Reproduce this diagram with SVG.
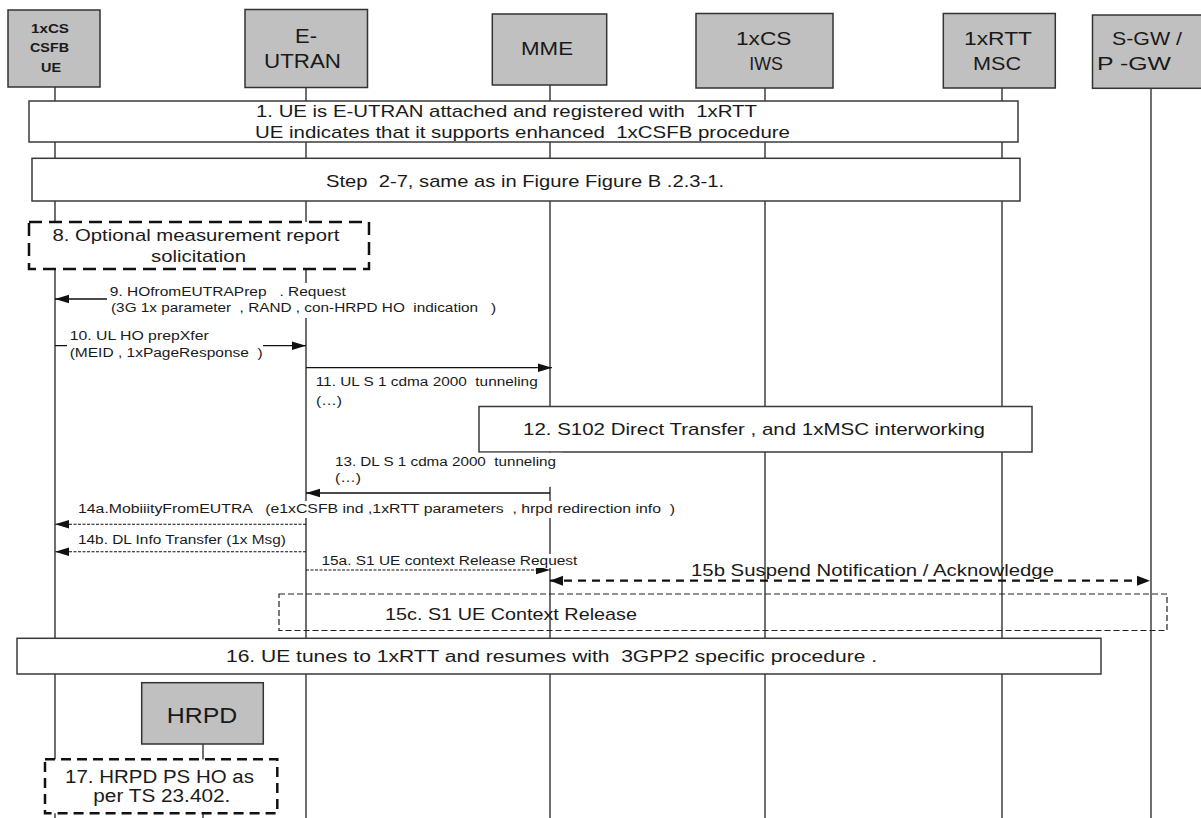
<svg xmlns="http://www.w3.org/2000/svg" width="1201" height="818" viewBox="0 0 1201 818">
<style>
text{font-family:"Liberation Sans",Arial,sans-serif;fill:#1a1a1a;white-space:pre}
.node{fill:#c0c0c0;stroke:#333;stroke-width:1.5}
.life{stroke:#222;stroke-width:1.3;fill:none}
.step{fill:#fff;stroke:#3a3a3a;stroke-width:1.5}
.opt{fill:#fff;stroke:#111;stroke-width:2.5;stroke-dasharray:13 7}
.opt2{fill:#fff;stroke:#111;stroke-width:2.5;stroke-dasharray:10 6}
.thin{fill:none;stroke:#222;stroke-width:1.2;stroke-dasharray:6 3}
.msg{stroke:#111;stroke-width:1.3;fill:none;marker-end:url(#ah)}
.dot{stroke:#111;stroke-width:1.1;fill:none;stroke-dasharray:3 1.5;marker-end:url(#ah)}
.bi{stroke:#111;stroke-width:2.2;fill:none;stroke-dasharray:8 6;marker-end:url(#ah2);marker-start:url(#ah2)}
.bg{fill:#fff;stroke:none}
.s12{font-size:12px}
.s17{font-size:17px}
</style>
<defs>
<marker id="ah" markerWidth="14" markerHeight="10" refX="14" refY="5" orient="auto" markerUnits="userSpaceOnUse"><path d="M0,0.8 L14,5 L0,9.2 z" fill="#111" stroke="none"/></marker>
<marker id="ah2" markerWidth="14" markerHeight="11" refX="13" refY="5.5" orient="auto-start-reverse" markerUnits="userSpaceOnUse"><path d="M0,0.5 L13,5.5 L0,10.5 z" fill="#111" stroke="none"/></marker>
</defs>

<g id="lifelines">
<line class="life" x1="55" y1="87" x2="55" y2="818"/>
<line class="life" x1="306" y1="87" x2="306" y2="818"/>
<line class="life" x1="550" y1="85" x2="550" y2="818"/>
<line class="life" x1="765" y1="88" x2="765" y2="818"/>
<line class="life" x1="1002" y1="88" x2="1002" y2="818"/>
<line class="life" x1="1151" y1="88" x2="1151" y2="818"/>
<line class="life" x1="203" y1="744" x2="203" y2="818"/>
</g>

<g id="node-ue">
<rect class="node" x="8" y="10" width="92" height="77"/>
<text x="31" y="33" font-size="12" font-weight="bold" textLength="38" lengthAdjust="spacingAndGlyphs">1xCS</text>
<text x="30" y="51.5" font-size="12" font-weight="bold" textLength="39" lengthAdjust="spacingAndGlyphs">CSFB</text>
<text x="41" y="71.5" font-size="12" font-weight="bold" textLength="20" lengthAdjust="spacingAndGlyphs">UE</text>
</g>
<g id="node-eutran">
<rect class="node" x="245" y="9.5" width="122.5" height="78"/>
<text x="295" y="43.3" font-size="20" textLength="22" lengthAdjust="spacingAndGlyphs">E-</text>
<text x="264" y="67.7" font-size="20" textLength="77" lengthAdjust="spacingAndGlyphs">UTRAN</text>
</g>
<g id="node-mme">
<rect class="node" x="492.3" y="14" width="114.4" height="71"/>
<text x="521" y="55" font-size="19" textLength="52" lengthAdjust="spacingAndGlyphs">MME</text>
</g>
<g id="node-iws">
<rect class="node" x="696" y="13.5" width="137" height="74.5"/>
<text x="736" y="45" font-size="18" textLength="55.5" lengthAdjust="spacingAndGlyphs">1xCS</text>
<text x="749.3" y="70" font-size="18" textLength="33.6" lengthAdjust="spacingAndGlyphs">IWS</text>
</g>
<g id="node-msc">
<rect class="node" x="943.3" y="13.5" width="112" height="74.5"/>
<text x="964" y="45" font-size="18" textLength="68" lengthAdjust="spacingAndGlyphs">1xRTT</text>
<text x="973" y="70" font-size="18" textLength="48" lengthAdjust="spacingAndGlyphs">MSC</text>
</g>
<g id="node-sgw">
<rect class="node" x="1092.5" y="15" width="120" height="73.3"/>
<text x="1112" y="45" font-size="18" textLength="70" lengthAdjust="spacingAndGlyphs">S-GW /</text>
<text x="1097" y="70" font-size="18" textLength="74" lengthAdjust="spacingAndGlyphs">P -GW</text>
</g>

<g id="step1">
<rect class="step" x="29" y="101" width="989" height="41"/>
<text class="s17" x="256" y="116.7" textLength="501" lengthAdjust="spacingAndGlyphs">1. UE is E-UTRAN attached and registered with  1xRTT</text>
<text class="s17" x="255" y="137.7" textLength="535" lengthAdjust="spacingAndGlyphs">UE indicates that it supports enhanced  1xCSFB procedure</text>
</g>
<g id="step2-7">
<rect class="step" x="32" y="158.3" width="988" height="42.7"/>
<text class="s17" x="326" y="186.7" textLength="398" lengthAdjust="spacingAndGlyphs">Step  2-7, same as in Figure Figure B .2.3-1.</text>
</g>
<g id="step8">
<rect class="opt" x="29" y="222" width="340" height="47"/>
<text class="s17" x="52.4" y="240.7" textLength="287" lengthAdjust="spacingAndGlyphs">8. Optional measurement report</text>
<text class="s17" x="151" y="261.7" textLength="95" lengthAdjust="spacingAndGlyphs">solicitation</text>
</g>
<g id="step12">
<rect class="step" x="479" y="406.5" width="553" height="45.5"/>
<text class="s17" x="523" y="435" textLength="462" lengthAdjust="spacingAndGlyphs">12. S102 Direct Transfer , and 1xMSC interworking</text>
</g>
<g id="step15c">
<rect class="thin" x="279" y="594" width="888" height="36.5"/>
<text class="s17" x="385" y="620" textLength="252" lengthAdjust="spacingAndGlyphs">15c. S1 UE Context Release</text>
</g>
<g id="step16">
<rect class="step" x="17" y="638.3" width="1084" height="35.7"/>
<text font-size="16" x="226" y="662" textLength="651" lengthAdjust="spacingAndGlyphs">16. UE tunes to 1xRTT and resumes with  3GPP2 specific procedure .</text>
</g>
<g id="node-hrpd">
<rect class="node" x="141.7" y="682.7" width="121.6" height="61.3"/>
<text x="166.7" y="722.7" font-size="22" textLength="70.6" lengthAdjust="spacingAndGlyphs">HRPD</text>
</g>
<g id="step17">
<rect class="opt2" x="45" y="759.3" width="232.3" height="54"/>
<text font-size="18" x="65" y="782.7" textLength="189" lengthAdjust="spacingAndGlyphs">17. HRPD PS HO as</text>
<text font-size="18" x="93.3" y="801.7" textLength="137" lengthAdjust="spacingAndGlyphs">per TS 23.402.</text>
</g>

<g id="connectors">
<line class="msg" x1="306" y1="299" x2="55" y2="299"/>
<line class="msg" x1="55" y1="345.7" x2="306" y2="345.7"/>
<line class="msg" x1="306" y1="367.7" x2="552" y2="367.7"/>
<line class="msg" x1="550" y1="493" x2="306" y2="493"/>
<line class="dot" x1="306" y1="524.3" x2="55" y2="524.3"/>
<line class="dot" x1="306" y1="551.7" x2="55" y2="551.7"/>
<line class="dot" x1="306" y1="570" x2="550" y2="570"/>
<line class="bi" x1="550" y1="580.7" x2="1150" y2="580.7"/>
</g>

<g id="labels">
<rect class="bg" x="107" y="283" width="393" height="35"/>
<text class="s12" x="109.8" y="296" textLength="236" lengthAdjust="spacingAndGlyphs">9. HOfromEUTRAPrep   . Request</text>
<text class="s12" x="111" y="312" textLength="385" lengthAdjust="spacingAndGlyphs">(3G 1x parameter  , RAND , con-HRPD HO  indication   )</text>
<rect class="bg" x="67" y="328" width="196" height="34"/>
<text class="s12" x="69.7" y="340" textLength="139" lengthAdjust="spacingAndGlyphs">10. UL HO prepXfer</text>
<text class="s12" x="69.7" y="357.3" textLength="193" lengthAdjust="spacingAndGlyphs">(MEID , 1xPageResponse  )</text>
<text class="s12" x="315.7" y="386" textLength="222" lengthAdjust="spacingAndGlyphs">11. UL S 1 cdma 2000  tunneling</text>
<text class="s12" x="316" y="405" textLength="26" lengthAdjust="spacingAndGlyphs">(…)</text>
<rect class="bg" x="330" y="452.8" width="233" height="34"/>
<text class="s12" x="335" y="465.5" textLength="221" lengthAdjust="spacingAndGlyphs">13. DL S 1 cdma 2000  tunneling</text>
<text class="s12" x="335" y="482" textLength="26" lengthAdjust="spacingAndGlyphs">(…)</text>
<rect class="bg" x="76" y="501" width="602" height="17"/>
<text class="s12" x="78" y="513.3" textLength="597" lengthAdjust="spacingAndGlyphs">14a.MobiiityFromEUTRA   (e1xCSFB ind ,1xRTT parameters  , hrpd redirection info  )</text>
<text class="s12" x="78" y="544" textLength="208" lengthAdjust="spacingAndGlyphs">14b. DL Info Transfer (1x Msg)</text>
<rect class="bg" x="319" y="554" width="260" height="14"/>
<text class="s12" x="321.4" y="565" textLength="256" lengthAdjust="spacingAndGlyphs">15a. S1 UE context Release Request</text>
<text class="s17" x="691" y="576" textLength="363" lengthAdjust="spacingAndGlyphs">15b Suspend Notification / Acknowledge</text>
</g>
</svg>
